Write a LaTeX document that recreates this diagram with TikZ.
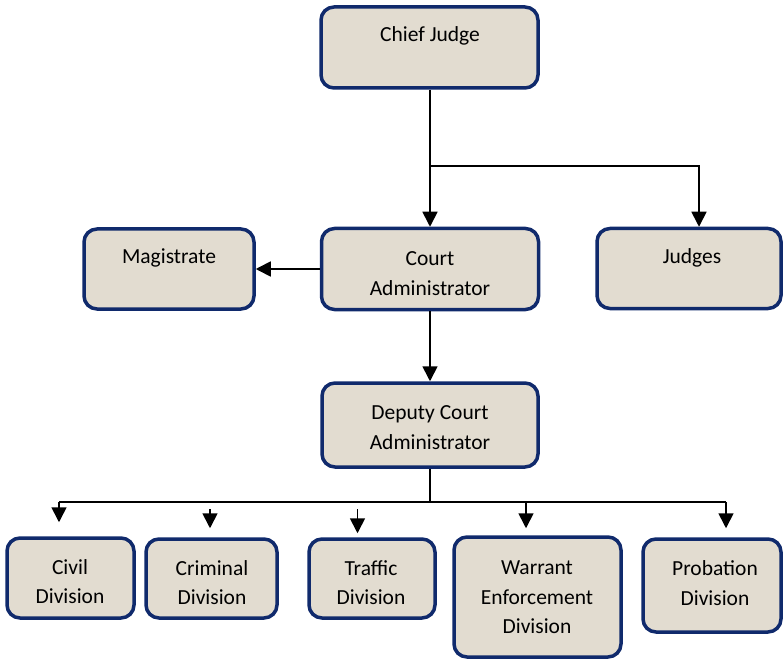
\documentclass[tikz,border=0pt]{standalone}
\usepackage{fontspec}
\setmainfont{Carlito}
\usetikzlibrary{arrows.meta}
\definecolor{boxfill}{RGB}{226,220,208}
\definecolor{boxline}{RGB}{16,42,108}
\begin{document}
\begin{tikzpicture}[x=1pt,y=-1pt,
  box/.style={draw=boxline, fill=boxfill, line width=3.5pt, rounded corners=13pt, inner sep=0pt},
  lbl/.style={align=center, font=\fontsize{21.5}{29.5}\selectfont, inner sep=0pt, text=black},
  conn/.style={line width=1.7pt, draw=black},
  arr/.style={conn, -{Triangle[width=15pt,length=15pt]}}]
\useasboundingbox (0,0) rectangle (784,660);

% boxes
\node[box, minimum width=217pt, minimum height=81pt] (cj) at (429.5,47.5) {};
\node[box, minimum width=170pt, minimum height=80pt] (mag) at (169,269) {};
\node[box, minimum width=217pt, minimum height=81pt] (ca) at (430,269) {};
\node[box, minimum width=184pt, minimum height=80pt] (jd) at (689,268.5) {};
\node[box, minimum width=216pt, minimum height=84pt] (dp) at (430,425) {};
\node[box, minimum width=127pt, minimum height=80pt] (civ) at (70.5,578) {};
\node[box, minimum width=131pt, minimum height=79pt] (cri) at (211.5,578.5) {};
\node[box, minimum width=126pt, minimum height=79pt] (tra) at (372,578.5) {};
\node[box, minimum width=167pt, minimum height=120pt] (war) at (537.5,597) {};
\node[box, minimum width=138pt, minimum height=93pt] (pro) at (712,585.5) {};

% labels
\node[lbl] (cjt) at (430,36) {Chief Judge};
\node[lbl] (magt) at (169,258) {Magistrate};
\node[lbl] (cat) at (430,273.5) {Court\\Administrator};
\node[lbl] (jdt) at (692,258) {Judges};
\node[lbl] (dpt) at (430,427.5) {Deputy Court\\Administrator};
\node[lbl] (civt) at (70,581.5) {Civil\\Division};
\node[lbl] (crit) at (212,582.5) {Criminal\\Division};
\node[lbl] (trat) at (371,582.5) {Traffic\\Division};
\node[lbl] (wart) at (537,597.5) {Warrant\\Enforcement\\Division};
\node[lbl] (prot) at (715,583) {Probation\\Division};

% top connectors
\coordinate (b1) at (430,166);
\coordinate (b2) at (699,166);
\draw[arr] (cj.south -| b1) -- (ca.north -| b1);
\draw[arr] (b1) -- (b2) -- (jd.north -| b2);
\draw[arr] (ca.west) -- (mag.east);
\draw[arr] (ca.south) -- (dp.north);

% bus to divisions
\coordinate (bc) at (430,502);
\coordinate (bl) at (59,502);
\coordinate (br) at (726,502);
\coordinate (bw) at (526,502);
\coordinate (scri) at (210,509);
\coordinate (stra) at (357.5,509);
\draw[conn] (dp.south) -- (bc);
\draw[conn] (bl) -- (br);
\draw[arr, shorten >=14pt] (bl) -- (civ.north -| bl);
\draw[arr, shorten >=9pt] (scri) -- (cri.north -| scri);
\draw[arr, shorten >=4pt] (stra) -- (tra.north -| stra);
\draw[arr, shorten >=7pt] (bw) -- (war.north -| bw);
\draw[arr, shorten >=9pt] (br) -- (pro.north -| br);
\end{tikzpicture}
\end{document}
